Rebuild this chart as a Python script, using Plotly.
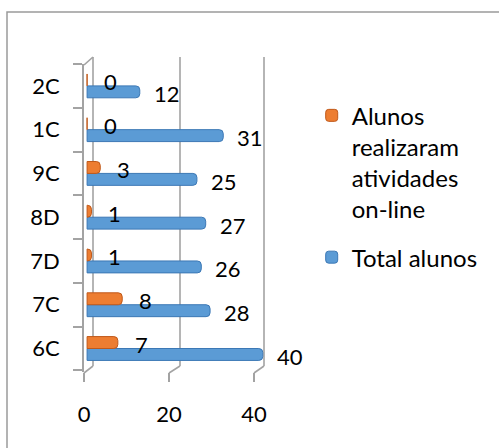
import plotly.graph_objects as go

# Students per class, bottom to top on the category axis
classes = ["6C", "7C", "7D", "8D", "9C", "1C", "2C"]
total_alunos = [40, 28, 26, 27, 25, 31, 12]
alunos_online = [7, 8, 1, 1, 3, 0, 0]
x_ticks = [0, 20, 40]

name_total = "Total alunos"
name_online = "Alunos<br>realizaram<br>atividades<br>on-line"

BLUE = "#5B9BD5"
BLUE_EDGE = "#3C78B5"
ORANGE = "#ED7D31"
ORANGE_EDGE = "#C0591A"
FRAME = "#A3A3A3"
FONT = "Lato"

W, H = 499, 448
L, R, T, B = 84, 265, 64, 372  # plot area in pixels


def to_paper(x, y):
    return (x - L) / (R - L), (B - y) / (B - T)


def line(p0, p1, color=FRAME, width=1.6):
    (x0, y0), (x1, y1) = to_paper(*p0), to_paper(*p1)
    return dict(type="line", xref="paper", yref="paper", x0=x0, y0=y0, x1=x1, y1=y1,
                line=dict(color=color, width=width), layer="below")


fig = go.Figure()
fig.add_trace(go.Bar(
    y=classes, x=total_alunos, orientation="h", name=name_total,
    marker=dict(color=BLUE, line=dict(color=BLUE_EDGE, width=1), cornerradius=4),
    legendgroup="total", legendrank=2, hoverinfo="x+y",
))
fig.add_trace(go.Bar(
    y=classes, x=alunos_online, orientation="h", name=name_online,
    marker=dict(color=ORANGE, line=dict(color=ORANGE_EDGE, width=1), cornerradius=4),
    legendgroup="online", legendrank=1, hoverinfo="x+y",
))
# front-plane value axis (carries the 0/20/40 ticks)
fig.add_trace(go.Scatter(
    x=x_ticks, y=[classes[0]] * len(x_ticks), xaxis="x2", yaxis="y", mode="markers",
    marker=dict(opacity=0), showlegend=False, hoverinfo="skip",
))

# value labels beside each bar end
annotations = []
for c, v in zip(classes, total_alunos):
    annotations.append(dict(x=v, y=c, text=str(v), showarrow=False, xanchor="left",
                            xshift=12, yshift=-8, font=dict(family=FONT, size=22, color="#000")))
for c, v in zip(classes, alunos_online):
    annotations.append(dict(x=v, y=c, text=str(v), showarrow=False, xanchor="left",
                            xshift=15, yshift=4, font=dict(family=FONT, size=22, color="#000")))

# 3-D style walls: back gridlines, side wall and floor edges
shapes = [
    line((93, 57), (93, 366)),        # back wall left edge
    line((84, 65), (93, 57)),         # side wall top
    line((93, 366), (84, 373)),       # floor edge at 0
    line((180, 57), (180, 366)),      # gridline 20
    line((180, 366), (169, 373)),
    line((264, 57), (264, 366)),      # gridline 40
    line((264, 366), (254, 373)),
]
# outer chart border
bx0, by0 = to_paper(7, 12)
bx1, by1 = to_paper(W + 20, H + 20)
shapes.append(dict(type="rect", xref="paper", yref="paper", x0=bx0, y0=by0, x1=bx1, y1=by1,
                   line=dict(color="#9A9A9A", width=1.5), layer="below"))

front_end = (254 - L) / (R - L)

fig.update_layout(
    width=W, height=H,
    margin=dict(l=L, r=W - R, t=T, b=H - B, pad=0),
    paper_bgcolor="white", plot_bgcolor="rgba(0,0,0,0)",
    barmode="group", bargap=0.455, bargroupgap=0,
    font=dict(family=FONT, size=22, color="#000"),
    xaxis=dict(range=[-0.7, 40.5], showgrid=False, zeroline=False, showline=False,
               showticklabels=False, ticks="", fixedrange=True),
    xaxis2=dict(range=[0, 40], domain=[0, front_end], anchor="y", tickvals=x_ticks,
                ticktext=[str(t) for t in x_ticks], showticklabels=True,
                ticks="outside", ticklen=9, tickwidth=1.5, tickcolor=FRAME,
                showgrid=False, zeroline=False, showline=False,
                ticklabelstandoff=14, tickfont=dict(family=FONT, size=22, color="#000")),
    yaxis=dict(type="category", categoryarray=classes, showgrid=False, zeroline=False,
               showline=True, linecolor=FRAME, linewidth=1.6,
               ticks="outside", tickson="boundaries", ticklen=9, tickwidth=1.5,
               tickcolor=FRAME, ticklabelstandoff=18,
               tickfont=dict(family=FONT, size=22, color="#000")),
    legend=dict(x=1.258, y=0.905, xanchor="left", yanchor="top", traceorder="grouped",
                tracegroupgap=14, valign="top", bgcolor="rgba(0,0,0,0)",
                font=dict(family=FONT, size=24, color="#000")),
    annotations=annotations, shapes=shapes, showlegend=True,
)

fig.write_html("out.html")
